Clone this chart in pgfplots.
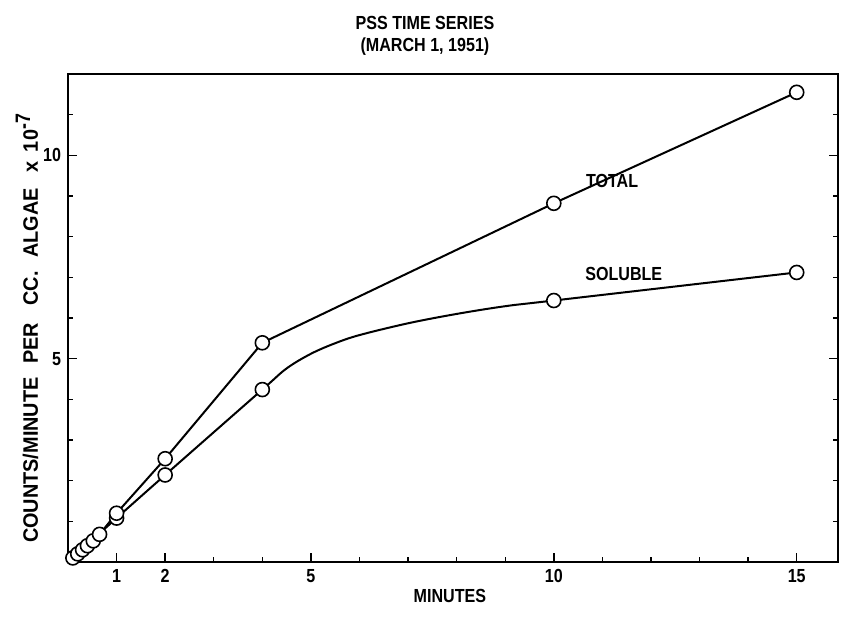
\documentclass[border=0pt]{standalone}
\usepackage{fontspec}
\setmainfont{Liberation Sans}[UprightFont={* Bold}, FakeStretch=0.85]
\newfontfamily\widefont{Liberation Sans}[UprightFont={* Bold}, FakeStretch=0.95]
\usepackage{pgfplots}
\pgfplotsset{compat=1.18}
\begin{document}
\begin{tikzpicture}
\useasboundingbox (-34bp,-30.5bp) rectangle (389bp,281bp);
\begin{axis}[
  at={(0,0)}, anchor=south west,
  scale only axis, width=385bp, height=244bp,
  xmin=0, xmax=15.85, ymin=0, ymax=12,
  axis line style={line width=1bp},
  xtick={1,2,5,10,15}, minor xtick={3,4,6,7,8,9,11,12,13,14},
  ytick={5,10}, minor ytick={1,2,3,4,6,7,8,9,11},
  xtick pos=left, ytick pos=both,
  tick align=inside,
  major tick length=4.5bp, minor tick length=2.5bp,
  every tick/.style={line width=0.7bp, black},
  /pgf/number format/assume math mode=true,
  tick label style={font=\fontsize{9.5}{10}\selectfont},
  clip=false,
]
\addplot[black, line width=1bp, smooth, tension=0.55]
  coordinates {(0,0) (1,1.08) (2,2.14) (4,4.24) (4.5,4.76) (5,5.12) (5.5,5.38) (6,5.58) (7,5.87) (8,6.1) (9,6.29) (10,6.43) (15,7.12)};
% total
\addplot[black, line width=1bp]
  coordinates {(0,0) (0.1,0.1) (0.2,0.2) (0.3,0.3) (0.4,0.4) (0.52,0.52) (0.65,0.68)
   (1,1.2) (2,2.54) (4,5.39) (10,8.82) (15,11.55)};
% measured points
\addplot[only marks, mark=*, mark size=3.5bp,
  mark options={fill=white, draw=black, line width=0.8bp}]
  coordinates {(1,1.08) (2,2.14) (4,4.24) (10,6.43) (15,7.12)};
\addplot[only marks, mark=*, mark size=3.5bp,
  mark options={fill=white, draw=black, line width=0.8bp}]
  coordinates {(0.1,0.1) (0.2,0.2) (0.3,0.3) (0.4,0.4) (0.52,0.52) (0.65,0.68)
   (1,1.2) (2,2.54) (4,5.39) (10,8.82) (15,11.55)};
\node[font=\fontsize{9.5}{10}\selectfont] at (axis cs:11.2,9.38) {TOTAL};
\node[font=\fontsize{9.5}{10}\selectfont] at (axis cs:11.44,7.09) {SOLUBLE};
\node[font=\fontsize{9.5}{10}\selectfont] at (axis description cs:0.4636,1.1045) {PSS TIME SERIES};
\node[font=\fontsize{9.5}{10}\selectfont] at (axis description cs:0.4636,1.057) {(MARCH 1, 1951)};
\node[font=\fontsize{9.5}{10}\selectfont] at (axis description cs:0.496,-0.0697) {MINUTES};
\node[font=\widefont\fontsize{10.5}{12}\selectfont, rotate=90] at (axis description cs:-0.0532,0.4795)
  {COUNTS/MINUTE\hspace{4bp} PER\hspace{6bp} CC.\hspace{4bp} ALGAE\hspace{5bp} x\hspace{2bp} 10$^{\textrm{-7}}$};
\end{axis}
\end{tikzpicture}
\end{document}
